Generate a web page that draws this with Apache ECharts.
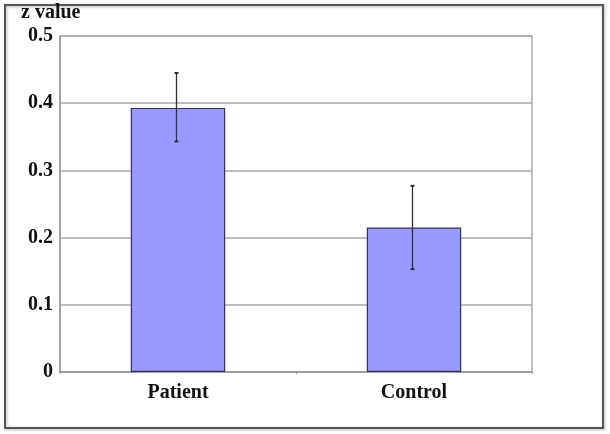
<!DOCTYPE html>
<html><head><meta charset="utf-8">
<script src="https://cdn.jsdelivr.net/npm/echarts@6/dist/echarts.min.js"></script>
<style>html,body{margin:0;padding:0;background:#fff}#c{width:610px;height:434px}</style>
</head><body><div id="c"></div>
<script>
const categories = ['Patient', 'Control'];
const means = [0.393, 0.215];
const errLow = [0.343, 0.153];
const errHigh = [0.445, 0.277];
const yTicks = [0, 0.1, 0.2, 0.3, 0.4, 0.5];

const font = '"Liberation Serif", "Times New Roman", serif';
const chart = echarts.init(document.getElementById('c'));
chart.setOption({
  animation: false,
  backgroundColor: '#fff',
  graphic: [
    {type: 'rect', shape: {x: 5, y: 5, width: 598, height: 423}, style: {fill: 'none', stroke: '#555', lineWidth: 2, shadowBlur: 3, shadowColor: 'rgba(0,0,0,0.3)', shadowOffsetX: 1, shadowOffsetY: 1}},
    {type: 'text', left: 21, top: 3, style: {text: 'z value', font: 'bold 20px ' + font, fill: '#111'}}
  ],
  grid: {left: 60, top: 36, right: 78, bottom: 62, show: true, borderColor: '#aaa', borderWidth: 1.5},
  xAxis: {
    type: 'category', data: categories,
    axisLine: {lineStyle: {color: '#999', width: 1.5}},
    axisTick: {show: true, alignWithLabel: false, length: 2, lineStyle: {color: '#999'}},
    axisLabel: {color: '#111', fontFamily: font, fontWeight: 'bold', fontSize: 20, margin: 11}
  },
  yAxis: {
    type: 'value', min: yTicks[0], max: yTicks[yTicks.length - 1], interval: 0.1,
    axisLine: {show: true, lineStyle: {color: '#999', width: 1.5}},
    axisTick: {show: false},
    splitLine: {lineStyle: {color: '#aaa', width: 1.5}},
    axisLabel: {color: '#111', fontFamily: font, fontWeight: 'bold', fontSize: 20, margin: 7}
  },
  series: [
    {type: 'bar', data: means, barWidth: '40%',
     itemStyle: {color: '#9999ff', borderColor: '#333355', borderWidth: 1.2}},
    {type: 'custom', data: categories.map((c, i) => [i, errLow[i], errHigh[i]]),
     z: 10,
     renderItem: function (params, api) {
       const lo = api.coord([api.value(0), api.value(1)]);
       const hi = api.coord([api.value(0), api.value(2)]);
       const x = Math.round(lo[0]) - 1.5;
       return {type: 'group', children: [
         {type: 'line', shape: {x1: x, y1: hi[1], x2: x, y2: lo[1]}, style: {stroke: '#333', lineWidth: 1.3}},
         {type: 'line', shape: {x1: x - 2, y1: hi[1], x2: x + 2, y2: hi[1]}, style: {stroke: '#333', lineWidth: 2}},
         {type: 'line', shape: {x1: x - 2, y1: lo[1], x2: x + 2, y2: lo[1]}, style: {stroke: '#333', lineWidth: 2}}
       ]};
     }}
  ]
});
</script></body></html>
